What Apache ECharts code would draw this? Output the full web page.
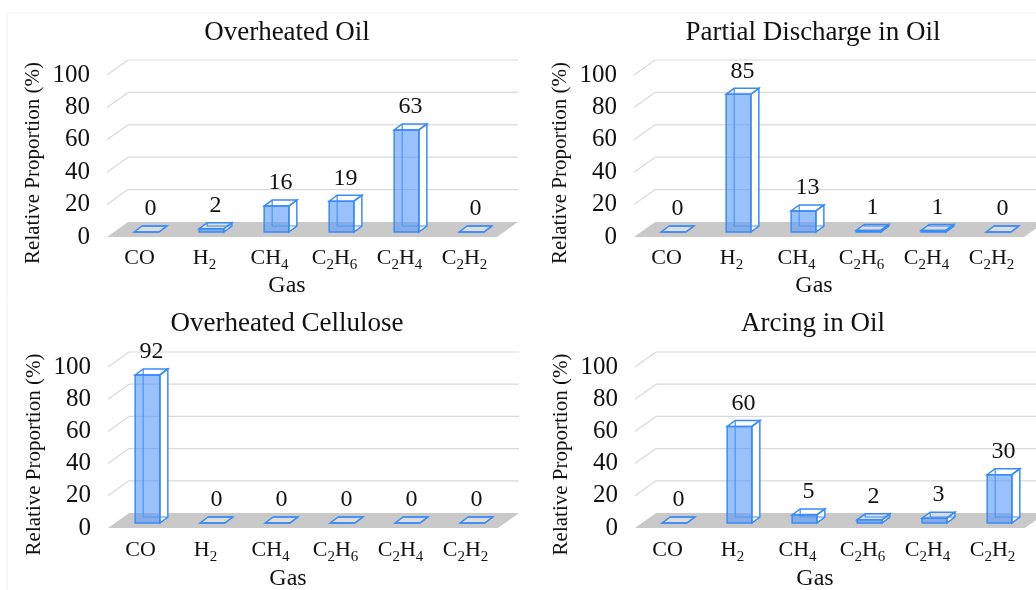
<!DOCTYPE html>
<html lang="en">
<head>
<meta charset="UTF-8">
<title>Relative gas proportions</title>
<style>html,body{margin:0;padding:0;background:#fff}#main{width:1036px;height:590px}</style>
</head>
<body>
<div id="main"></div>
<script src="https://cdn.jsdelivr.net/npm/echarts@6/dist/echarts.min.js"></script>
<script>
// data
var gases = ['CO', 'H2', 'CH4', 'C2H6', 'C2H4', 'C2H2'];
var yTicks = [0, 20, 40, 60, 80, 100];
var titles = ['Overheated Oil', 'Partial Discharge in Oil', 'Overheated Cellulose', 'Arcing in Oil'];
var overheatedOil = [0, 2, 16, 19, 63, 0];
var partialDischarge = [0, 85, 13, 1, 1, 0];
var overheatedCellulose = [92, 0, 0, 0, 0, 0];
var arcingInOil = [0, 60, 5, 2, 3, 30];

var panels = [overheatedOil, partialDischarge, overheatedCellulose, arcingInOil];

var FONT = 'Liberation Serif, Times New Roman, serif';
var TEXT = '#111111';
var BLUE = '#3b8bf6';

// front plane of each panel
var gridPos = [
  { left: 107, top: 75, width: 390, height: 162 },
  { left: 634, top: 75, width: 390, height: 162 },
  { left: 108, top: 367, width: 390, height: 161 },
  { left: 635, top: 367, width: 390, height: 161 }
];
var titlePos = [[287, 19], [813, 19], [287, 310], [813, 310]];
var labelMargin = [7, 7, 8, 8];
var nameGapX = [37, 37, 39, 39];

// pseudo 3d offsets (px)
var FLOOR_DX = 21, FLOOR_DY = -15;
var BAR_FX = 7, BAR_FY = -5;
var BAR_DX = 8, BAR_DY = -6;

function subLabel(s) {
  return s.replace(/([A-Za-z]+)|(\d+)/g, function (m, a, d) {
    return a ? '{n|' + a + '}' : '{s|' + d + '}';
  });
}

// floor, back wall grid lines and side diagonals
function renderDecor(params, api) {
  var t = api.value(1);
  var y = api.coord([0, t])[1];
  var cs = params.coordSys;
  var x0 = cs.x, x1 = cs.x + cs.width;
  if (t === yTicks[0]) {
    return {
      type: 'polygon',
      shape: { points: [[x0, y], [x1, y], [x1 + FLOOR_DX, y + FLOOR_DY], [x0 + FLOOR_DX, y + FLOOR_DY]] },
      style: { fill: '#c9c9c9' }
    };
  }
  var ls = { stroke: '#d9d9d9', lineWidth: 1.2 };
  return {
    type: 'group',
    children: [
      { type: 'line', shape: { x1: x0, y1: y, x2: x0 + FLOOR_DX, y2: y + FLOOR_DY }, style: ls },
      { type: 'line', shape: { x1: x0 + FLOOR_DX, y1: y + FLOOR_DY, x2: x1 + FLOOR_DX, y2: y + FLOOR_DY }, style: ls }
    ]
  };
}

function renderBar(params, api) {
  var i = api.value(0), v = api.value(1);
  var top = api.coord([i, v]);
  var base = api.coord([i, 0]);
  var half = api.size([1, 0])[0] * 0.19;
  var cx = top[0] + BAR_FX;
  var L = cx - half, R = cx + half;
  var T = top[1] + BAR_FY, B = base[1] + BAR_FY;
  return {
    type: 'group',
    children: [
      // right side
      { type: 'polygon', shape: { points: [[R, T], [R + BAR_DX, T + BAR_DY], [R + BAR_DX, B + BAR_DY], [R, B]] },
        style: { fill: '#ffffff', stroke: BLUE, lineWidth: 1.5 } },
      // top
      { type: 'polygon', shape: { points: [[L, T], [R, T], [R + BAR_DX, T + BAR_DY], [L + BAR_DX, T + BAR_DY]] },
        style: { fill: 'rgba(255,255,255,0.35)', stroke: BLUE, lineWidth: 1.5 } },
      // hidden back edges
      { type: 'polyline', shape: { points: [[L + BAR_DX, T + BAR_DY], [L + BAR_DX, B + BAR_DY], [R + BAR_DX, B + BAR_DY]] },
        style: { fill: null, stroke: BLUE, lineWidth: 1.2 } },
      // front face
      { type: 'rect', shape: { x: L, y: T, width: R - L, height: B - T },
        style: { fill: 'rgba(90,155,248,0.62)', stroke: BLUE, lineWidth: 1.5 } },
      { type: 'text', style: { text: String(v), x: cx + BAR_DX / 2, y: T - 23, align: 'center', verticalAlign: 'middle',
        font: '24px ' + FONT, fill: TEXT } }
    ]
  };
}

var grids = [], xAxes = [], yAxes = [], series = [], titleList = [];
panels.forEach(function (vals, k) {
  grids.push(Object.assign({ containLabel: false, outerBoundsMode: 'none' }, gridPos[k]));
  titleList.push({
    text: titles[k], left: titlePos[k][0], top: titlePos[k][1], textAlign: 'center', padding: 0,
    textStyle: { fontFamily: FONT, fontSize: 27, fontWeight: 'normal', color: TEXT }
  });
  xAxes.push({
    gridIndex: k, type: 'category', data: gases,
    axisLine: { show: false }, axisTick: { show: false }, splitLine: { show: false },
    axisLabel: {
      interval: 0, margin: labelMargin[k], formatter: subLabel,
      rich: {
        n: { fontFamily: FONT, fontSize: 22, color: TEXT, lineHeight: 28 },
        s: { fontFamily: FONT, fontSize: 15, color: TEXT, padding: [14, 0, 0, 0] }
      }
    },
    name: 'Gas', nameLocation: 'middle', nameGap: nameGapX[k],
    nameTextStyle: { fontFamily: FONT, fontSize: 24, color: TEXT, padding: [0, 30, 0, 0] }
  });
  yAxes.push({
    gridIndex: k, type: 'value', min: 0, max: 100, interval: 20,
    axisLine: { show: false }, axisTick: { show: false }, splitLine: { show: false },
    axisLabel: { margin: 17, fontFamily: FONT, fontSize: 25, color: TEXT },
    name: 'Relative Proportion (%)', nameLocation: 'middle', nameGap: 63,
    nameTextStyle: { fontFamily: FONT, fontSize: 21, color: TEXT, padding: [0, 14, 0, 0] }
  });
  series.push({
    type: 'custom', xAxisIndex: k, yAxisIndex: k, silent: true, z: 1,
    data: yTicks.map(function (t) { return [0, t]; }),
    renderItem: renderDecor
  });
  series.push({
    type: 'custom', xAxisIndex: k, yAxisIndex: k, z: 3,
    data: vals.map(function (v, i) { return [i, v]; }),
    renderItem: renderBar
  });
});

var myChart = echarts.init(document.getElementById('main'));
myChart.setOption({
  backgroundColor: '#ffffff',
  animation: false,
  title: titleList,
  grid: grids,
  xAxis: xAxes,
  yAxis: yAxes,
  series: series,
  // faint frame of the original figure
  graphic: [
    { type: 'polyline', silent: true, shape: { points: [[7, 590], [7, 13], [1036, 13]] },
      style: { fill: null, stroke: '#f1f1f1', lineWidth: 1 } }
  ]
});
</script>
</body>
</html>
